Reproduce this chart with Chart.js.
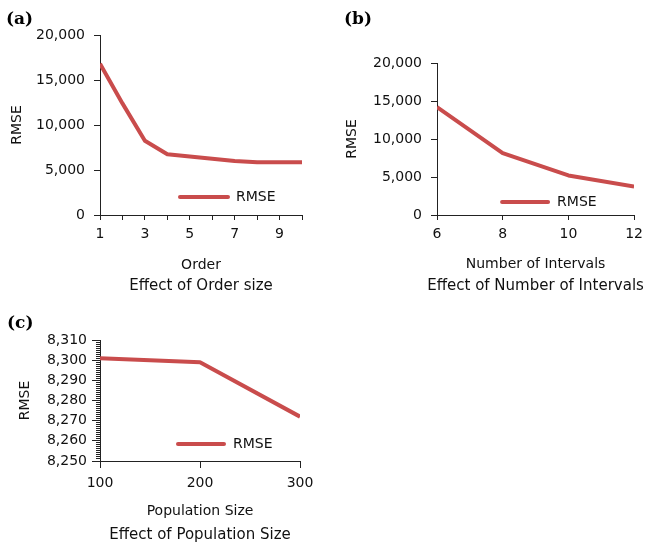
<!DOCTYPE html>
<html>
<head>
<meta charset="utf-8">
<script src="https://cdn.jsdelivr.net/npm/chart.js@4.4.1/dist/chart.umd.min.js"></script>
<style>
  html, body { margin: 0; padding: 0; background: #fff; }
  body { width: 649px; height: 545px; position: relative; overflow: hidden; }
  canvas { position: absolute; }
</style>
</head>
<body>
<canvas id="chartA" width="325" height="300" style="left:0;top:0"></canvas>
<canvas id="chartB" width="311" height="300" style="left:338px;top:0"></canvas>
<canvas id="chartC" width="325" height="245" style="left:0;top:300px"></canvas>
<script>
// (a) effect of order size
const orderValues = [1, 2, 3, 4, 5, 6, 7, 8, 9, 10];
const orderRmse = [16800, 12400, 8250, 6750, 6500, 6250, 6000, 5850, 5850, 5850];

// (b) effect of number of intervals
const intervalValues = [6, 8, 10, 12];
const intervalRmse = [14200, 8150, 5200, 3750];

// (c) effect of population size
const populationValues = [100, 200, 300];
const populationRmse = [8301, 8299, 8272];

const LINE_RED = "#c94c4c";
const AXIS = "#222";

Chart.defaults.font.family = "'DejaVu Sans', sans-serif";
Chart.defaults.font.size = 14;
Chart.defaults.color = "#111";

// legend inside the plot (bottom right) and the caption under the axis title
const panelExtras = {
  id: "panelExtras",
  afterDraw(chart, args, opts) {
    const { ctx, chartArea } = chart;
    const ds = chart.data.datasets[0];
    const lg = opts.legend;
    const x0 = chartArea.right - lg.right;
    const y = chartArea.bottom - lg.bottom;
    ctx.save();
    ctx.strokeStyle = ds.borderColor;
    ctx.lineWidth = 4;
    ctx.lineCap = "round";
    ctx.beginPath();
    ctx.moveTo(x0, y);
    ctx.lineTo(x0 + lg.length, y);
    ctx.stroke();
    ctx.fillStyle = "#111";
    ctx.font = "14px 'DejaVu Sans'";
    ctx.textBaseline = "middle";
    ctx.fillText(ds.label, x0 + lg.length + lg.gap, y);

    ctx.font = "15px 'DejaVu Sans'";
    ctx.textAlign = "center";
    ctx.fillText(opts.caption, (chartArea.left + chartArea.right) / 2, chartArea.bottom + opts.captionGap);
    ctx.restore();
  },
};

function axisGrid(tickLength) {
  return {
    display: true,
    drawOnChartArea: false,
    drawTicks: true,
    tickLength: tickLength,
    color: AXIS,
    lineWidth: 1,
  };
}

function makePanel(id, p) {
  const ctx = document.getElementById(id).getContext("2d");
  return new Chart(ctx, {
    type: "line",
    data: {
      datasets: [
        {
          label: "RMSE",
          data: p.xs.map((x, i) => ({ x: x, y: p.ys[i] })),
          borderColor: LINE_RED,
          borderWidth: 4,
          pointRadius: 0,
          tension: 0,
          borderJoinStyle: "round",
        },
      ],
    },
    options: {
      responsive: false,
      animation: false,
      locale: "en-US",
      layout: { padding: p.padding },
      plugins: {
        legend: { display: false },
        tooltip: { enabled: false },
        title: {
          display: true,
          text: p.tag,
          align: "start",
          color: "#000",
          font: { family: "'DejaVu Serif', serif", size: 17, weight: "bold" },
          padding: { top: 0, bottom: p.tagGap },
        },
        panelExtras: {
          legend: p.legend,
          caption: p.caption,
          captionGap: p.captionGap,
        },
      },
      scales: {
        x: {
          type: "linear",
          min: p.xMin,
          max: p.xMax,
          afterFit: (s) => { s.height = p.xHeight; },
          grid: axisGrid(p.xTick),
          border: { display: true, color: AXIS, width: 1 },
          ticks: {
            stepSize: p.xStep,
            autoSkip: false,
            maxRotation: 0,
            padding: p.xPad,
            color: "#111",
            callback: p.xLabel,
          },
          title: {
            display: true,
            text: p.xTitle,
            color: "#111",
            font: { size: 14 },
            padding: { top: 0, bottom: p.xTitlePad },
          },
        },
        y: {
          min: p.yMin,
          max: p.yMax,
          afterFit: (s) => { s.width = p.yWidth; },
          grid: Object.assign(axisGrid(p.yTick), p.yGridExtra || {}),
          border: { display: true, color: AXIS, width: 1 },
          ticks: {
            stepSize: p.yStep,
            autoSkip: false,
            padding: p.yPad,
            color: "#111",
            callback: p.yLabel,
          },
          title: {
            display: true,
            text: "RMSE",
            color: "#111",
            font: { size: 14, lineHeight: 1 },
            padding: { top: p.yTitlePad, bottom: 0 },
          },
        },
      },
    },
    plugins: [panelExtras],
  });
}

const fmt = (v) => Number(v).toLocaleString("en-US");

makePanel("chartA", {
  xs: orderValues, ys: orderRmse,
  tag: "(a)", tagGap: 5.6,
  caption: "Effect of Order size", captionGap: 71,
  padding: { left: 6, right: 23, top: 9, bottom: 24 },
  xMin: 1, xMax: 10, xStep: 1, xTick: 5, xPad: 6, xHeight: 61,
  xLabel: (v) => (v % 2 === 1 ? String(v) : ""),
  xTitle: "Order", xTitlePad: 2,
  yMin: 0, yMax: 20000, yStep: 5000, yTick: 6, yPad: 9, yWidth: 94,
  yLabel: (v) => fmt(v),
  yTitlePad: 4,
  legend: { right: 122, bottom: 18, length: 48, gap: 8 },
});

makePanel("chartB", {
  xs: intervalValues, ys: intervalRmse,
  tag: "(b)", tagGap: 33.6,
  caption: "Effect of Number of Intervals", captionGap: 71,
  padding: { left: 6, right: 9, top: 9, bottom: 23 },
  xMin: 6, xMax: 12, xStep: 2, xTick: 5, xPad: 6, xHeight: 62,
  xLabel: (v) => String(v),
  xTitle: "Number of Intervals", xTitlePad: 4,
  yMin: 0, yMax: 20000, yStep: 5000, yTick: 6, yPad: 9, yWidth: 93,
  yLabel: (v) => fmt(v),
  yTitlePad: 1,
  legend: { right: 132, bottom: 13, length: 46, gap: 9 },
});

makePanel("chartC", {
  xs: populationValues, ys: populationRmse,
  tag: "(c)", tagGap: 6.6,
  caption: "Effect of Population Size", captionGap: 74.5,
  padding: { left: 7, right: 25, top: 13, bottom: 19 },
  xMin: 100, xMax: 300, xStep: 100, xTick: 7, xPad: 7, xHeight: 65,
  xLabel: (v) => String(v),
  xTitle: "Population Size", xTitlePad: 6,
  yMin: 8250, yMax: 8310, yStep: 1, yTick: 8, yPad: 5, yWidth: 93,
  yLabel: (v) => (v % 10 === 0 ? fmt(v) : ""),
  // short minor ticks between the labelled ones
  yGridExtra: {
    tickBorderDash: (c) => (c.tick && c.tick.value % 10 === 0 ? [] : [4, 4]),
    tickBorderDashOffset: 4,
  },
  yTitlePad: 11,
  legend: { right: 122, bottom: 17, length: 46, gap: 9 },
});
</script>
</body>
</html>
